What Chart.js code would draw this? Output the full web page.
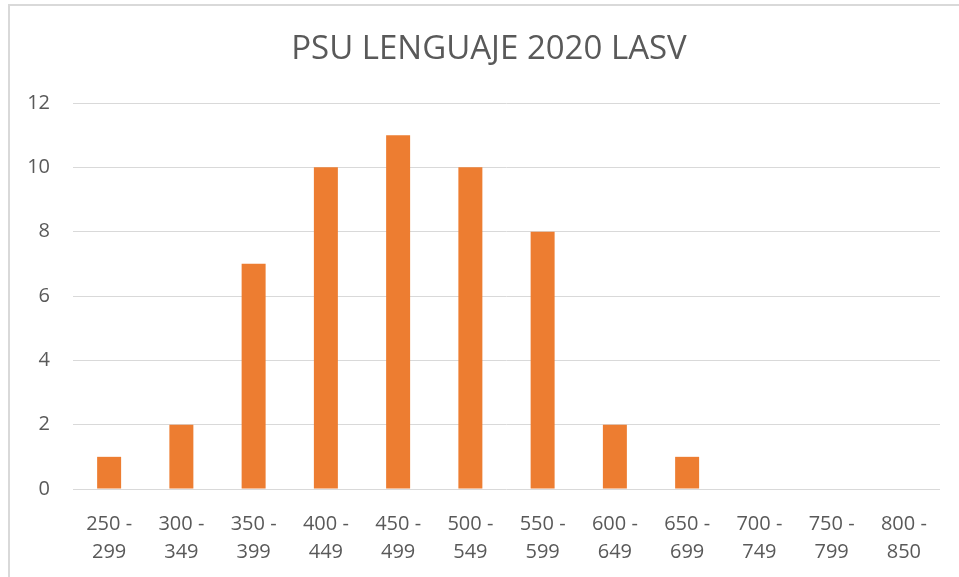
<!DOCTYPE html>
<html>
<head>
<meta charset="utf-8">
<script src="https://cdn.jsdelivr.net/npm/chart.js@4"></script>
<style>
  html, body { margin: 0; padding: 0; background: #fff; overflow: hidden; }
  #frame { position: absolute; left: 8px; top: 4px; width: 1000px; height: 700px; border: 2px solid #d9d9d9; box-sizing: border-box; }
  #wrap { position: absolute; left: 0; top: 0; width: 959px; height: 577px; }
</style>
</head>
<body>
<div id="frame"></div>
<div id="wrap"><canvas id="chart" width="959" height="577"></canvas></div>
<script>
// PSU histogram data
const categories = [
  ["250 -", "299"], ["300 -", "349"], ["350 -", "399"], ["400 -", "449"],
  ["450 -", "499"], ["500 -", "549"], ["550 -", "599"], ["600 -", "649"],
  ["650 -", "699"], ["700 -", "749"], ["750 -", "799"], ["800 -", "850"]
];
const counts = [1, 2, 7, 10, 11, 10, 8, 2, 1, 0, 0, 0];
const yTicks = [0, 2, 4, 6, 8, 10, 12];

const textColor = "#595959";
const fontFamily = "'Open Sans', sans-serif";

// title is centred on the outer frame, not on the plot
const titleShift = {
    id: "titleShift",
    afterLayout(c) {
        const t = c.titleBlock;
        t.left = 8;
        t.right = 970;
        t.width = 962;
    }
};

const ctx = document.getElementById("chart").getContext("2d");
const chart = new Chart(ctx, {
    type: "bar",
    data: {
        labels: categories,
        datasets: [{
            label: "PSU",
            data: counts,
            backgroundColor: "#ED7D31",
            categoryPercentage: 1,
            barPercentage: 0.332
        }]
    },
    plugins: [titleShift],
    options: {
        responsive: false,
        animation: false,
        layout: { padding: { left: 0, right: 19, top: 0, bottom: 0 } },
        plugins: {
            legend: { display: false },
            tooltip: { enabled: false },
            title: {
                display: true,
                text: "PSU LENGUAJE 2020 LASV",
                color: textColor,
                font: { family: fontFamily, size: 33, weight: "normal", lineHeight: 1.2 },
                padding: { top: 30, bottom: 33.4 }
            }
        },
        scales: {
            x: {
                grid: { display: false, drawTicks: false },
                border: { display: false },
                ticks: {
                    color: textColor,
                    font: { family: fontFamily, size: 20, lineHeight: 1.4 },
                    padding: 21,
                    maxRotation: 0,
                    autoSkip: false
                },
                afterFit: function(scale) { scale.height = 577 - 489; }
            },
            y: {
                min: 0,
                max: 12,
                afterBuildTicks: function(scale) {
                    scale.ticks = yTicks.map(v => ({ value: v }));
                },
                grid: { color: "#d9d9d9", lineWidth: 1, drawTicks: false },
                border: { display: false },
                ticks: {
                    color: textColor,
                    font: { family: fontFamily, size: 20 },
                    padding: 23
                },
                afterFit: function(scale) { scale.width = 73; }
            }
        }
    }
});
</script>
</body>
</html>
